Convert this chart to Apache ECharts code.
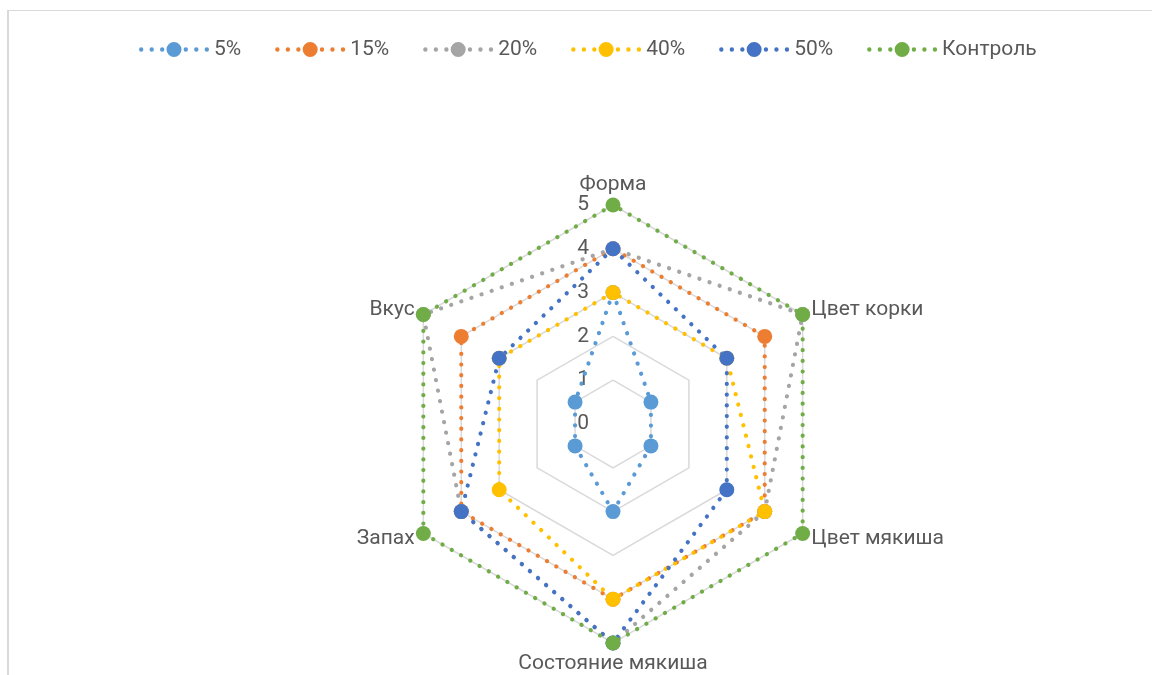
<!DOCTYPE html>
<html>
<head>
<meta charset="utf-8">
<script src="https://cdn.jsdelivr.net/npm/echarts@6/dist/echarts.min.js"></script>
<style>
html,body{margin:0;padding:0;background:#fff;}
#frame{position:absolute;left:7px;top:10px;width:1200px;height:700px;border-left:2px solid #d9d9d9;border-top:1px solid #d9d9d9;}
#c{position:absolute;left:0;top:0;width:1152px;height:675px;}
</style>
</head>
<body>
<div id="frame"></div>
<div id="c"></div>
<script>
// Categories in clockwise order starting from the top
const categories = ['Форма', 'Цвет корки', 'Цвет мякиша', 'Состояние мякиша', 'Запах', 'Вкус'];
const seriesNames = ['5%', '15%', '20%', '40%', '50%', 'Контроль'];
const values5 = [3, 1, 1, 2, 1, 1];
const values15 = [4, 4, 4, 4, 4, 4];
const values20 = [4, 5, 4, 5, 4, 5];
const values40 = [3, 3, 4, 4, 3, 3];
const values50 = [4, 3, 3, 5, 4, 3];
const valuesControl = [5, 5, 5, 5, 5, 5];
const tickLabels = ['0', '1', '2', '3', '4', '5'];
const colors = ['#5B9BD5', '#ED7D31', '#A5A5A5', '#FFC000', '#4472C4', '#70AD47'];

const allValues = [values5, values15, values20, values40, values50, valuesControl];
// ECharts radar runs counter-clockwise; reorder to get clockwise layout
const order = [0, 5, 4, 3, 2, 1];
const reorder = arr => order.map(i => arr[i]);

const FONT = 'Roboto, "Noto Sans", sans-serif';
const TEXT = '#595959';
const FS = 21;

function circ(cx, cy, r) {
  return 'M' + (cx - r) + ',' + cy + 'a' + r + ',' + r + ' 0 1,0 ' + (2 * r) + ',0a' + r + ',' + r + ' 0 1,0 ' + (-2 * r) + ',0Z';
}
let iconPath = 'path://';
[2.2, 12.7, 23.2, 46.8, 57.3, 67.8].forEach(x => { iconPath += circ(x, 7.5, 2.2); });
iconPath += circ(35, 7.5, 7.5);

const chart = echarts.init(document.getElementById('c'), null, {renderer: 'canvas'});
chart.setOption({
  animation: false,
  textStyle: {fontFamily: FONT},
  legend: {
    data: seriesNames,
    left: 134,
    top: 34,
    itemWidth: 70,
    itemHeight: 15,
    itemGap: 34,
    icon: iconPath,
    textStyle: {fontSize: FS, color: TEXT, fontFamily: FONT}
  },
  radar: {
    center: [613, 424],
    radius: 219,
    startAngle: 90,
    splitNumber: 5,
    shape: 'polygon',
    indicator: reorder(categories).map(n => ({name: n, min: 0, max: 5})),
    axisName: {color: TEXT, fontSize: FS, fontFamily: FONT},
    nameGap: 10,
    axisLine: {show: false},
    axisTick: {show: false},
    axisLabel: {show: false},
    splitArea: {show: false},
    splitLine: {lineStyle: {color: '#d9d9d9', width: 1.5}}
  },
  polar: {center: [613, 424], radius: 219},
  angleAxis: {show: false, startAngle: 90, min: 0, max: 360},
  radiusAxis: {
    type: 'category',
    data: tickLabels,
    boundaryGap: false,
    axisLine: {show: false},
    axisTick: {show: false},
    splitLine: {show: false},
    axisLabel: {color: TEXT, fontSize: FS, fontFamily: FONT, margin: 24}
  },
  series: seriesNames.map((name, i) => ({
    type: 'radar',
    name: name,
    symbol: 'circle',
    symbolSize: 15,
    itemStyle: {color: colors[i]},
    lineStyle: {color: colors[i], width: 4.2, type: [0.1, 10.6], cap: 'round'},
    data: [{value: reorder(allValues[i]), name: name}]
  }))
});
</script>
</body>
</html>
